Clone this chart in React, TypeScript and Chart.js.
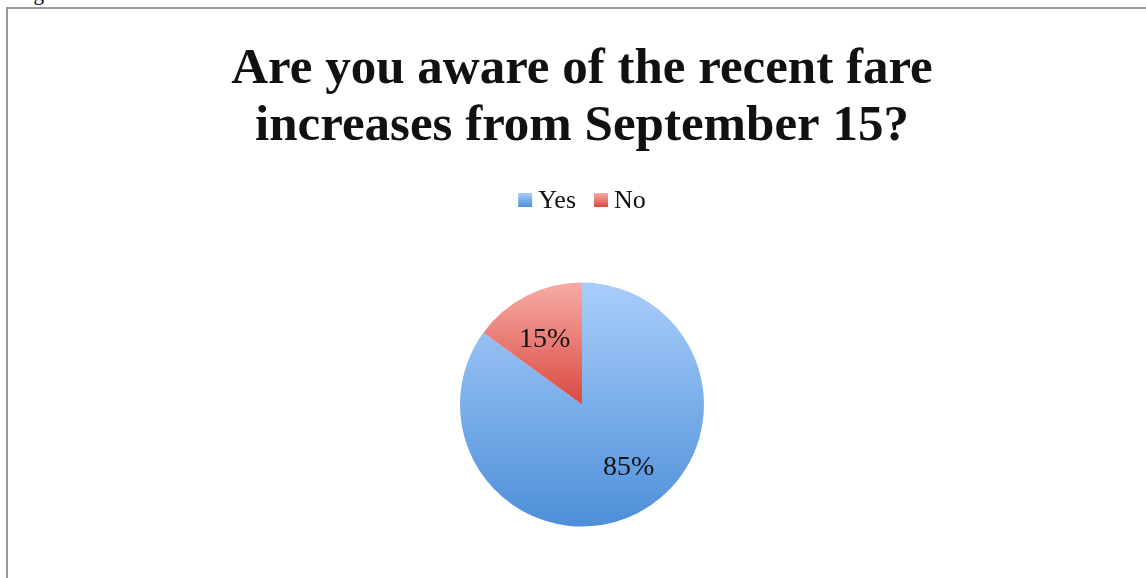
import React, { useEffect, useRef } from "react";
import { Chart, registerables } from "chart.js";

Chart.register(...registerables);

const titleLines = ["Are you aware of the recent fare", "increases from September 15?"];
const categories = ["Yes", "No"];
const values = [85, 15];
const valueLabels = ["85%", "15%"];

const gradStops = [
  ["#a9cdfb", "#4d8fd8"],
  ["#f8aba7", "#d8493f"],
];

const SERIF = "'Liberation Serif', 'DejaVu Serif', serif";

const labelPlugin = {
  id: "sliceLabels",
  afterDatasetsDraw(chart: any) {
    const { ctx } = chart;
    const meta = chart.getDatasetMeta(0);
    const shifts = [-10.5, -2];
    meta.data.forEach((arc: any, i: number) => {
      const { x, y, startAngle, endAngle, outerRadius } = arc.getProps(
        ["x", "y", "startAngle", "endAngle", "outerRadius"],
        true
      );
      const mid = (startAngle + endAngle) / 2 + (shifts[i] * Math.PI) / 180;
      const rr = outerRadius * 0.63;
      ctx.save();
      ctx.font = `28px ${SERIF}`;
      ctx.fillStyle = "#111";
      ctx.textAlign = "center";
      ctx.textBaseline = "middle";
      ctx.fillText(valueLabels[i], x + rr * Math.cos(mid), y + rr * Math.sin(mid) + 2);
      ctx.restore();
    });
  },
};

const legendPlugin = {
  id: "customLegend",
  afterDraw(chart: any) {
    const { ctx, chartArea } = chart;
    const cx = (chartArea.left + chartArea.right) / 2;
    const ly = 200;
    const box = 14;
    const gap = 6;
    const itemGap = 18;
    ctx.save();
    ctx.font = `26px ${SERIF}`;
    const widths = categories.map((c) => box + gap + ctx.measureText(c).width);
    const total = widths.reduce((a, b) => a + b, 0) + itemGap * (categories.length - 1);
    let x = cx - total / 2;
    categories.forEach((c, i) => {
      const g = ctx.createLinearGradient(0, ly - box / 2, 0, ly + box / 2);
      g.addColorStop(0, gradStops[i][0]);
      g.addColorStop(1, gradStops[i][1]);
      ctx.fillStyle = g;
      ctx.fillRect(x, ly - box / 2, box, box);
      ctx.fillStyle = "#111";
      ctx.textAlign = "left";
      ctx.textBaseline = "middle";
      ctx.fillText(c, x + box + gap, ly + 1);
      x += widths[i] + itemGap;
    });
    ctx.restore();
  },
};

export default function App() {
  const ref = useRef<HTMLCanvasElement>(null);
  useEffect(() => {
    if (!ref.current) return;
    const chart = new Chart(ref.current, {
      type: "pie",
      data: {
        labels: categories,
        datasets: [
          {
            data: values,
            borderWidth: 0,
            backgroundColor: (c: any) => {
              const chartObj = c.chart;
              const area = chartObj.chartArea;
              const idx = c.dataIndex;
              if (!area) return gradStops[idx][1];
              const cx = (area.left + area.right) / 2;
              const cy = (area.top + area.bottom) / 2;
              const r = Math.min(area.right - area.left, area.bottom - area.top) / 2;
              const ctx = chartObj.ctx;
              const y1 = idx === 0 ? cy + r : cy;
              const g = ctx.createLinearGradient(cx, cy - r, cx, y1);
              g.addColorStop(0, gradStops[idx][0]);
              g.addColorStop(1, gradStops[idx][1]);
              return g;
            },
          },
        ],
      },
      options: {
        animation: false,
        responsive: false,
        rotation: 0,
        layout: { padding: { top: 41.5, bottom: 51.5, left: 0, right: 0 } },
        plugins: {
          title: {
            display: true,
            text: titleLines,
            color: "#111",
            font: { family: SERIF, size: 51, weight: "bold", lineHeight: 1.118 },
            padding: { top: 0, bottom: 127 },
          },
          legend: { display: false },
          tooltip: { enabled: false },
        },
      },
      plugins: [labelPlugin, legendPlugin],
    });
    return () => chart.destroy();
  }, []);

  return (
    <div style={{ position: "fixed", left: 0, top: 0, width: 1146, height: 578, overflow: "hidden", background: "#fff" }}>
      <div
        style={{
          position: "absolute",
          left: 16,
          top: -19,
          fontFamily: SERIF,
          fontSize: 21,
          color: "#000",
          whiteSpace: "nowrap",
        }}
      >
        Figure 33
      </div>
      <div
        style={{
          position: "absolute",
          left: 6,
          top: 7,
          width: 1200,
          height: 700,
          border: "2px solid #9a9a9a",
          boxSizing: "border-box",
        }}
      />
      <canvas ref={ref} width={1146} height={578} style={{ position: "absolute", left: 9, top: 0, width: 1146, height: 578 }} />
    </div>
  );
}
